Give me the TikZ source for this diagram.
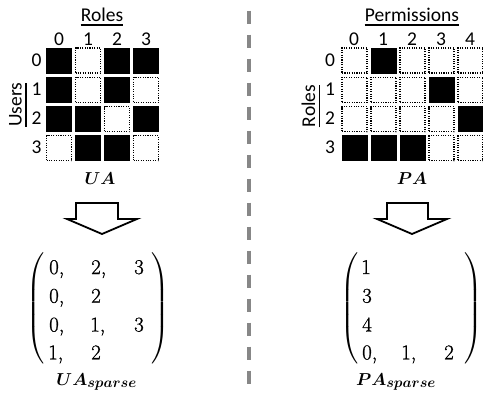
\documentclass[tikz,border=0pt]{standalone}
\usepackage{amsmath}
\usepackage{bm}
\usepackage{fontspec}
\setmainfont{Carlito}
\newfontfamily\entryfont[FakeBold=1]{Latin Modern Roman}
\definecolor{dividergray}{RGB}{135,135,135}
% larger subscripts for the matrix names
\DeclareMathSizes{16}{16}{13.5}{10}

% tall parentheses around the sparse lists
\newcommand\openbig{$\delimiterfactor=1000\delimitershortfall=0pt\nulldelimiterspace=0pt
  \left(\vcenter{\hbox{\vrule height 103pt width 0pt}}\right.$}
\newcommand\closebig{$\delimiterfactor=1000\delimitershortfall=0pt\nulldelimiterspace=0pt
  \left.\vcenter{\hbox{\vrule height 103pt width 0pt}}\right)$}

\begin{document}
\begin{tikzpicture}[x=1pt,y=-1pt,
  cell/.style={rectangle, inner sep=0pt, minimum size=26pt},
  cell1/.style={cell, fill=black},
  cell0/.style={cell, minimum size=25pt, draw=black, fill=white,
    line width=1.1pt, dash pattern=on 1.1pt off 1.3pt},
  idx/.style={font=\fontsize{19.5}{22}\selectfont, inner sep=0pt, anchor=base},
  heading/.style={font=\fontsize{19.5}{22}\selectfont, inner sep=0pt, anchor=base},
  uline/.style={line width=1.2pt},
  mname/.style={font=\fontsize{16}{19}\selectfont, inner sep=0pt, anchor=base},
  entry/.style={font=\entryfont\fontsize{21}{25}\selectfont, inner sep=0pt, anchor=base west},
  delim/.style={font=\fontsize{21}{25}\selectfont, inner sep=0pt},
  blockarrow/.style={draw=black, line width=1.8pt, fill=white, line join=miter},
  divider/.style={draw=dividergray, line width=3.4pt, dash pattern=on 13.5pt off 10.5pt}
]
\useasboundingbox (0,0) rectangle (483,394);

% ---------- user-role assignment matrix ----------
\foreach \r/\bits in {0/{1,0,1,1},1/{1,0,1,0},2/{1,1,0,1},3/{0,1,1,0}} {
  \foreach \b [count=\c from 0] in \bits {
    \node[cell\b] (ua-\r-\c) at ({59+29*\c},{60.5+29.3*\r}) {};
  }
}
\foreach \c in {0,...,3} \node[idx] (uacol\c) at ({59+29*\c},45.5) {\c};
\foreach \r in {0,...,3} \node[idx] (uarow\r) at (36.5,{66+29.3*\r}) {\r};
\node[heading] (uaroles) at (102,21) {Roles};
\draw[uline] ([yshift=-4pt]uaroles.base west) -- ([yshift=-4pt]uaroles.base east);
\node[heading, rotate=90] (uausers) at (21.7,104.7) {Users};
\draw[uline] ([xshift=4.3pt]uausers.base west) -- ([xshift=4.3pt]uausers.base east);
\node[mname] (uaname) at (100,184) {$\bm{UA}$};

% ---------- permission-role assignment matrix ----------
\foreach \r/\bits in {0/{0,1,0,0,0},1/{0,0,0,1,0},2/{0,0,0,0,1},3/{1,1,1,0,0}} {
  \foreach \b [count=\c from 0] in \bits {
    \node[cell\b] (pa-\r-\c) at ({354.5+29*\c},{60.5+29.3*\r}) {};
  }
}
\foreach \c in {0,...,4} \node[idx] (pacol\c) at ({354+29*\c},45.5) {\c};
\foreach \r in {0,...,3} \node[idx] (parow\r) at (330,{66+29.3*\r}) {\r};
\node[heading] (paperms) at (412,21) {Permissions};
\draw[uline] ([yshift=-4pt]paperms.base west) -- ([yshift=-4pt]paperms.base east);
\node[heading, rotate=90] (paroles) at (315,106) {Roles};
\draw[uline] ([xshift=4.3pt]paroles.base west) -- ([xshift=4.3pt]paroles.base east);
\node[mname] (paname) at (412,184) {$\bm{PA}$};

% ---------- conversion arrows ----------
\draw[blockarrow] (76,203) -- (118,203) -- (118,219) -- (137,219) -- (102,234)
  -- (67,219) -- (76,219) -- cycle;
\draw[blockarrow] (387,203) -- (428,203) -- (428,219) -- (447,219) -- (412,234)
  -- (377,219) -- (387,219) -- cycle;

% ---------- sparse form of UA ----------
\node[delim] (uaopen) at (35.6,308.3) {\openbig};
\node[delim] (uaclose) at (160.5,308.3) {\closebig};
\node[entry] (us-1-1) at (49,274) {0,};
\node[entry] (us-1-2) at (91,274) {2,};
\node[entry] (us-1-3) at (134,274) {3};
\node[entry] (us-2-1) at (49,302.7) {0,};
\node[entry] (us-2-2) at (91,302.7) {2};
\node[entry] (us-3-1) at (49,331.5) {0,};
\node[entry] (us-3-2) at (90,331.5) {1,};
\node[entry] (us-3-3) at (134,331.5) {3};
\node[entry] (us-4-1) at (48,359.3) {1,};
\node[entry] (us-4-2) at (91,359.3) {2};
\node[mname] (usname) at (96.7,385) {$\bm{UA}_{\bm{sparse}}$};

% ---------- sparse form of PA ----------
\node[delim] (paopen) at (349.2,308.3) {\openbig};
\node[delim] (paclose) at (473.3,308.3) {\closebig};
\node[entry] (ps-1-1) at (361,274) {1};
\node[entry] (ps-2-1) at (362,302.7) {3};
\node[entry] (ps-3-1) at (362,331.5) {4};
\node[entry] (ps-4-1) at (362,359.3) {0,};
\node[entry] (ps-4-2) at (401,359.3) {1,};
\node[entry] (ps-4-3) at (444,359.3) {2};
\node[mname] (psname) at (396,385) {$\bm{PA}_{\bm{sparse}}$};

% ---------- separator ----------
\coordinate (septop) at (249,10.7);
\coordinate (sepbot) at (249,384);
\draw[divider] (septop) -- (sepbot);
\end{tikzpicture}
\end{document}
